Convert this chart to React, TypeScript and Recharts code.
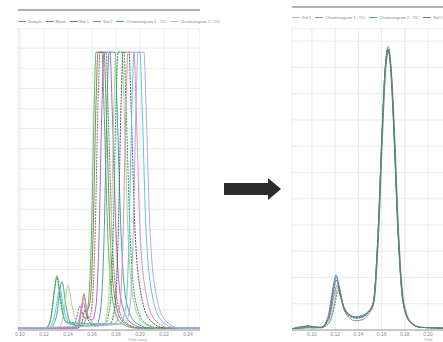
import React from 'react';
import { LineChart, Line, XAxis, YAxis, CartesianGrid } from 'recharts';

// before: retention time (min) / intensity, one list of [t, v] per injection
const beforeGreen = [[0.0983,1],[0.1208,1],[0.125,4],[0.1283,18],[0.1308,27],[0.1333,18],[0.1367,6],[0.1417,3],[0.1517,2],[0.1558,8],[0.1592,40],[0.1617,110],[0.1633,138],[0.1683,138],[0.17,110],[0.1733,45],[0.1775,14],[0.1833,4],[0.1958,1],[0.25,1]];
const beforeBrown = [[0.0983,1],[0.1483,1],[0.1508,8],[0.1533,18],[0.1558,10],[0.1583,14],[0.1608,45],[0.1633,112],[0.165,138],[0.17,138],[0.1717,112],[0.175,48],[0.1792,15],[0.1858,4],[0.1983,1],[0.25,1]];
const beforeGray = [[0.0983,1],[0.1417,1],[0.1467,5],[0.15,12],[0.1533,6],[0.1575,6],[0.16,12],[0.1625,45],[0.165,112],[0.1667,138],[0.1717,138],[0.1733,112],[0.1767,48],[0.1808,15],[0.1875,4],[0.2,1],[0.25,1]];
const beforePurple = [[0.0983,1],[0.145,1],[0.1492,5],[0.1525,14],[0.1558,7],[0.16,5],[0.1633,12],[0.1658,45],[0.1683,112],[0.17,138],[0.175,138],[0.1767,112],[0.18,48],[0.1842,15],[0.1917,4],[0.2042,1],[0.25,1]];
const beforeTeal = [[0.0983,1],[0.125,1],[0.13,6],[0.135,24],[0.1383,12],[0.1417,4],[0.15,2],[0.1642,3],[0.1675,12],[0.17,45],[0.1725,112],[0.1742,138],[0.1792,138],[0.1808,112],[0.1842,48],[0.1883,15],[0.1958,4],[0.2083,1],[0.25,1]];
const beforeLime = [[0.0983,1],[0.1317,1],[0.1358,6],[0.14,22],[0.1433,12],[0.1467,5],[0.1583,2],[0.17,3],[0.1733,12],[0.1758,45],[0.1783,112],[0.18,138],[0.185,138],[0.1867,112],[0.19,48],[0.1942,16],[0.2017,4],[0.215,1],[0.25,1]];
const beforeForest = [[0.0983,1],[0.1217,1],[0.1258,6],[0.1308,26],[0.1342,12],[0.1383,4],[0.1708,3],[0.175,12],[0.1775,45],[0.18,112],[0.1817,138],[0.1867,138],[0.1883,112],[0.1917,48],[0.1958,16],[0.2033,4],[0.2167,1],[0.25,1]];
const beforeDark = [[0.0983,1],[0.1483,1],[0.1517,4],[0.1542,10],[0.1567,5],[0.1625,2],[0.175,3],[0.1792,12],[0.1817,45],[0.1842,112],[0.1858,138],[0.1908,138],[0.1925,112],[0.1958,50],[0.2008,18],[0.2083,5],[0.2208,1],[0.25,1]];
const beforePink = [[0.0983,1],[0.1467,1],[0.15,6],[0.1533,16],[0.1567,7],[0.1625,3],[0.1792,3],[0.1833,12],[0.1858,45],[0.1883,112],[0.19,138],[0.195,138],[0.1967,112],[0.2,50],[0.205,18],[0.2125,5],[0.225,1],[0.25,1]];
const beforeCyan = [[0.0983,1],[0.1233,1],[0.1283,6],[0.1333,20],[0.1367,10],[0.1417,3],[0.1833,3],[0.1883,12],[0.1908,45],[0.1933,112],[0.195,138],[0.2,138],[0.2017,112],[0.205,50],[0.21,18],[0.2175,5],[0.23,1],[0.25,1]];
const beforeLavender = [[0.0983,1],[0.1875,3],[0.1917,12],[0.1942,45],[0.1967,112],[0.1983,138],[0.2033,138],[0.205,112],[0.2083,50],[0.2133,18],[0.2208,5],[0.2333,1],[0.25,1]];

// after: same injections, aligned
const afterBlue = [[0.0828,0.5],[0.0931,0.8],[0.0966,1.8],[0.1,0.8],[0.1078,1],[0.1138,5],[0.1181,16],[0.1207,21],[0.1233,17],[0.1267,10],[0.1319,6],[0.1371,5],[0.1431,5.5],[0.1483,7],[0.1526,10],[0.1569,36],[0.1603,74],[0.1629,98],[0.1655,107],[0.1681,98],[0.1707,75],[0.1741,38],[0.1784,11],[0.1845,3],[0.1931,1],[0.2379,0.5]];
const afterGreen = [[0.0828,0.5],[0.0966,1.2],[0.1078,0.8],[0.1155,3],[0.1198,10],[0.1224,15],[0.125,12],[0.1285,7],[0.1336,5],[0.1388,4.5],[0.144,5],[0.149,7],[0.153,11],[0.1572,38],[0.1606,76],[0.1632,99],[0.1658,107],[0.1684,97],[0.171,73],[0.1744,36],[0.1787,10],[0.185,3],[0.194,1],[0.2379,0.5]];
const afterGray = [[0.0828,0.5],[0.0966,1.5],[0.1078,1],[0.114,4],[0.1185,14],[0.121,19],[0.1237,15],[0.127,9],[0.132,6],[0.1375,4.5],[0.1435,5],[0.1485,6.5],[0.1528,10],[0.157,37],[0.1604,75],[0.163,99],[0.1656,108],[0.1682,99],[0.1708,76],[0.1742,39],[0.1786,11],[0.1848,3],[0.1935,1],[0.2379,0.5]];
const afterPurple = [[0.0828,0.5],[0.0966,1],[0.1078,1],[0.1145,4],[0.119,13],[0.1215,17],[0.124,14],[0.1275,8],[0.1325,4.5],[0.1378,3.5],[0.1438,4],[0.1488,6],[0.1532,10],[0.1574,37],[0.1608,75],[0.1634,99],[0.166,106],[0.1686,96],[0.1712,72],[0.1746,36],[0.179,10],[0.1852,3],[0.194,1],[0.2379,0.5]];
const afterLime = [[0.0828,0.5],[0.1078,1],[0.115,3],[0.1195,11],[0.122,16],[0.1245,13],[0.128,8],[0.133,5.5],[0.138,5],[0.144,5.5],[0.149,7],[0.1535,11],[0.1576,38],[0.161,76],[0.1636,99],[0.1662,107],[0.1688,97],[0.1714,74],[0.1748,37],[0.1792,11],[0.1855,3],[0.1945,1],[0.2379,0.5]];
const afterTeal = [[0.0828,0.5],[0.0966,1.4],[0.1078,1],[0.1142,4.5],[0.1183,15],[0.1209,20],[0.1235,16],[0.1268,9.5],[0.1322,5.5],[0.1373,4.8],[0.1433,5.2],[0.1484,6.8],[0.1527,10],[0.1568,36],[0.1602,74],[0.1628,98],[0.1654,107],[0.168,98],[0.1706,75],[0.174,38],[0.1783,11],[0.1845,3],[0.1932,1],[0.2379,0.5]];

const beforeTicks = [0.10, 0.12, 0.14, 0.16, 0.18, 0.20, 0.22, 0.24];
const afterTicks = [0.10, 0.12, 0.14, 0.16, 0.18, 0.20];
const beforeYTicks = [0, 10, 20, 30, 40, 50, 60, 70, 80, 90, 100, 110, 120, 130, 140, 150];
const afterYTicks = [0, 10, 20, 30, 40, 50, 60, 70, 80, 90, 100, 110];
const beforeLegend = ['Sample', 'Blank', 'Std 1', 'Std 2', 'Chromatogram 1 - TIC', 'Chromatogram 2 - TIC'];
const afterLegend = ['Std 1', 'Chromatogram 1 - TIC', 'Chromatogram 2 - TIC', 'Std 2'];

const beforeSeries = [
  { name: 'green', pts: beforeGreen, color: '#5cb85c' },
  { name: 'brown', pts: beforeBrown, color: '#9c7a5c' },
  { name: 'gray', pts: beforeGray, color: '#777777', dash: '2 1' },
  { name: 'purple', pts: beforePurple, color: '#a46cc8' },
  { name: 'teal', pts: beforeTeal, color: '#3aa8a0' },
  { name: 'lime', pts: beforeLime, color: '#a6d98a' },
  { name: 'forest', pts: beforeForest, color: '#3c9a50', dash: '2 1' },
  { name: 'dark', pts: beforeDark, color: '#555555', dash: '2 1' },
  { name: 'pink', pts: beforePink, color: '#d890b8' },
  { name: 'cyan', pts: beforeCyan, color: '#5cc8d8' },
  { name: 'lavender', pts: beforeLavender, color: '#b8a8e0' },
];

const afterSeries = [
  { name: 'lime', pts: afterLime, color: '#9fd07e' },
  { name: 'purple', pts: afterPurple, color: '#a878c8' },
  { name: 'teal', pts: afterTeal, color: '#40a8a0' },
  { name: 'blue', pts: afterBlue, color: '#6b78c4' },
  { name: 'gray', pts: afterGray, color: '#666666', dash: '2 1' },
  { name: 'green', pts: afterGreen, color: '#4a9c50', dash: '2 1' },
];

const toRows = (pts: number[][]) => pts.map(([t, v]) => ({ t, v }));

const Panel = ({ series, domain, ticks, yTicks, yMax, width }: any) => (
  <LineChart width={width + 8} height={312} margin={{ top: 0, right: 0, bottom: 0, left: 8 }}>
    <CartesianGrid stroke="#e4e4e8" strokeWidth={0.8} />
    <XAxis
      type="number"
      dataKey="t"
      domain={domain}
      ticks={ticks}
      interval={0}
      allowDataOverflow
      height={10}
      tickSize={0}
      tickMargin={2}
      tickFormatter={(v: number) => v.toFixed(2)}
      tick={{ fontSize: 5, fill: '#888' }}
      axisLine={{ stroke: '#9a9a9a' }}
    />
    <YAxis hide type="number" domain={[0, yMax]} ticks={yTicks} interval={0} allowDataOverflow />
    {series.map((s: any) => (
      <Line
        key={s.name}
        data={toRows(s.pts)}
        dataKey="v"
        type="monotone"
        stroke={s.color}
        strokeWidth={1}
        strokeDasharray={s.dash}
        dot={false}
        isAnimationActive={false}
      />
    ))}
  </LineChart>
);

const LegendRow = ({ items, colors }: any) => (
  <div style={{ display: 'flex', gap: 4, fontSize: 4, color: '#888', whiteSpace: 'nowrap', alignItems: 'center' }}>
    {items.map((n: string, i: number) => (
      <span key={n} style={{ display: 'flex', alignItems: 'center', gap: 2 }}>
        <span style={{ display: 'inline-block', width: 8, height: 1, background: colors[i % colors.length] }} />
        {n}
      </span>
    ))}
  </div>
);

export default function App() {
  return (
    <div style={{ position: 'fixed', left: 0, top: 0, width: 443, height: 342, overflow: 'hidden', background: '#fff', fontFamily: 'Liberation Sans, Arial, sans-serif' }}>
      {/* before */}
      <div style={{ position: 'absolute', left: 18, top: 9, width: 182, height: 2, background: '#b0b0b0' }} />
      <div style={{ position: 'absolute', left: 18, top: 19, width: 182 }}>
        <LegendRow items={beforeLegend} colors={beforeSeries.map(s => s.color)} />
      </div>
      <div style={{ position: 'absolute', left: 10, top: 28 }}>
        <Panel series={beforeSeries} domain={[0.0983, 0.25]} ticks={beforeTicks} yTicks={beforeYTicks} yMax={150} width={182} />
      </div>
      <div style={{ position: 'absolute', left: 128, top: 337, fontSize: 4, color: '#999' }}>Time (min)</div>

      {/* arrow */}
      <svg style={{ position: 'absolute', left: 222, top: 176 }} width={62} height={26}>
        <polygon points="2,7 46,7 46,2 59,13 46,24 46,19 2,19" fill="#2b2b2b" />
      </svg>

      {/* after */}
      <div style={{ position: 'absolute', left: 292, top: 6, width: 151, height: 2, background: '#b0b0b0' }} />
      <div style={{ position: 'absolute', left: 292, top: 15, width: 151 }}>
        <LegendRow items={afterLegend} colors={afterSeries.map(s => s.color)} />
      </div>
      <div style={{ position: 'absolute', left: 284, top: 28 }}>
        <Panel series={afterSeries} domain={[0.0828, 0.2379]} ticks={afterTicks} yTicks={afterYTicks} yMax={115} width={180} />
      </div>
      <div style={{ position: 'absolute', left: 424, top: 337, fontSize: 4, color: '#999' }}>Time</div>
    </div>
  );
}
